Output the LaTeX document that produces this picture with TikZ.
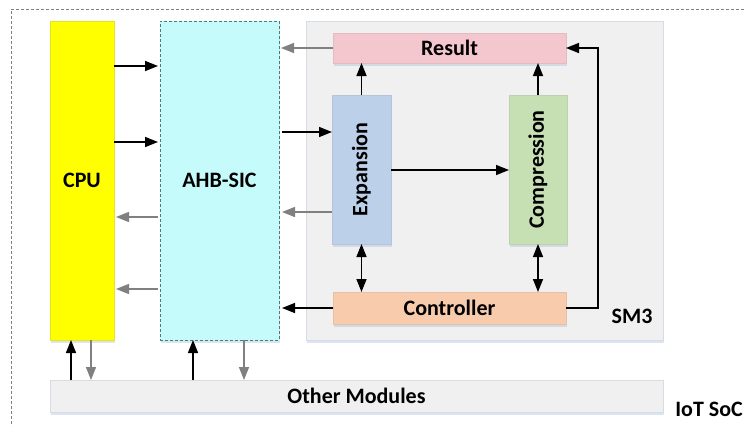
\documentclass[tikz,border=0pt]{standalone}
\usepackage{fontspec}
\setmainfont{Carlito}
\usetikzlibrary{arrows.meta,shadows}
\definecolor{cpuyel}{HTML}{FFFF00}
\definecolor{ahbcyan}{HTML}{C6FBFB}
\definecolor{panel}{HTML}{F0F0F0}
\definecolor{panelline}{HTML}{D6DCE4}
\definecolor{respink}{HTML}{F4C6CE}
\definecolor{expblue}{HTML}{BDD0EA}
\definecolor{cmpgreen}{HTML}{C6E0B4}
\definecolor{ctlorange}{HTML}{F7CBAC}
\definecolor{darrow}{HTML}{808080}
\definecolor{shade}{HTML}{9FB3D6}
\begin{document}
\begin{tikzpicture}[x=1pt,y=-1pt,
  font=\fontsize{22}{26}\selectfont\bfseries,
  blk/.style={rectangle,inner sep=0pt,outer sep=0pt,
    drop shadow={shadow xshift=1pt,shadow yshift=-2.5pt,fill=shade,opacity=.35}},
  blkline/.style={draw=#1,line width=.6pt},
  tip/.style={Triangle[length=13pt,width=10pt]},
  fwd/.style={-{Triangle[length=13pt,width=10pt]},line width=1.5pt,black},
  bck/.style={-{Triangle[length=13pt,width=10pt]},line width=1.5pt,darrow},
  both/.style={{Triangle[length=13pt,width=10pt]}-{Triangle[length=13pt,width=10pt]},line width=1.5pt,black}]
\useasboundingbox (0,0) rectangle (744,426);

% SoC boundary
\draw[darrow,line width=.8pt,dash pattern=on 3pt off 2pt] (744,9) -- (11,9) -- (11,426);
\node at (709,409) {IoT SoC};

% main blocks
\node[blk,fill=cpuyel,blkline=cpuyel!80!gray,minimum width=64pt,minimum height=319pt] (cpu) at (82,180.5) {CPU};
\node[blk,fill=ahbcyan,draw=teal!50!gray,line width=.7pt,dash pattern=on 3pt off 2pt,minimum width=119pt,minimum height=319pt] (ahb) at (219.5,180.5) {AHB-SIC};
\node[blk,fill=panel,blkline=panelline,minimum width=357pt,minimum height=319pt] (sm3) at (484.5,180.5) {};
\node at (632,316) {SM3};
\node[blk,fill=panel,blkline=panelline,minimum width=613pt,minimum height=32pt] (oth) at (356.5,396) {Other Modules};

% SM3 internals
\node[blk,fill=respink,blkline=respink!85!gray,minimum width=233pt,minimum height=30pt] (res) at (449.5,48) {Result};
\node[blk,fill=expblue,blkline=expblue!85!gray,minimum width=59pt,minimum height=149pt] (exp) at (361.5,169.5) {};
\node[rotate=90] at (exp.center) {Expansion};
\node[blk,fill=cmpgreen,blkline=cmpgreen!85!gray,minimum width=58pt,minimum height=149pt] (cmp) at (538,169.5) {};
\node[rotate=90] at (cmp.center) {Compression};
\node[blk,fill=ctlorange,blkline=ctlorange!85!gray,minimum width=233pt,minimum height=32pt] (ctl) at (449.5,308) {Controller};

% CPU <-> AHB-SIC
\draw[fwd,shorten >=2pt] (cpu.east |- 0,66) -- (ahb.west |- 0,66);
\draw[fwd,shorten >=2pt] (cpu.east |- 0,142) -- (ahb.west |- 0,142);
\draw[bck,shorten >=2pt,shorten <=2pt] (ahb.west |- 0,217) -- (cpu.east |- 0,217);
\draw[bck,shorten >=2pt,shorten <=2pt] (ahb.west |- 0,289) -- (cpu.east |- 0,289);

% AHB-SIC <-> SM3
\draw[fwd,shorten <=3pt] (ahb.east |- 0,132) -- (exp.west |- 0,132);
\draw[bck,shorten >=2pt] (res.west) -- (ahb.east |- res.west);
\draw[bck,shorten >=3pt] (exp.west |- 0,212) -- (ahb.east |- 0,212);
\draw[fwd,shorten >=3pt] (ctl.west) -- (ahb.east |- ctl.west);

% inside SM3
\draw[fwd] (exp.north) -- (res.south -| exp.north);
\draw[fwd] (cmp.north) -- (res.south -| cmp.north);
\draw[fwd] (exp.east |- 0,170) -- (cmp.west |- 0,170);
\draw[both] (exp.south) -- (ctl.north -| exp.south);
\draw[both] (cmp.south) -- (ctl.north -| cmp.south);
\draw[fwd] (ctl.east) -- ++(32,0) |- (res.east);

% bus connections to other modules
\draw[fwd] (oth.north -| 71,0) -- (cpu.south -| 71,0);
\draw[bck] (cpu.south -| 91,0) -- (oth.north -| 91,0);
\draw[fwd] (oth.north -| 193,0) -- (ahb.south -| 193,0);
\draw[bck] (ahb.south -| 244,0) -- (oth.north -| 244,0);
\end{tikzpicture}
\end{document}
